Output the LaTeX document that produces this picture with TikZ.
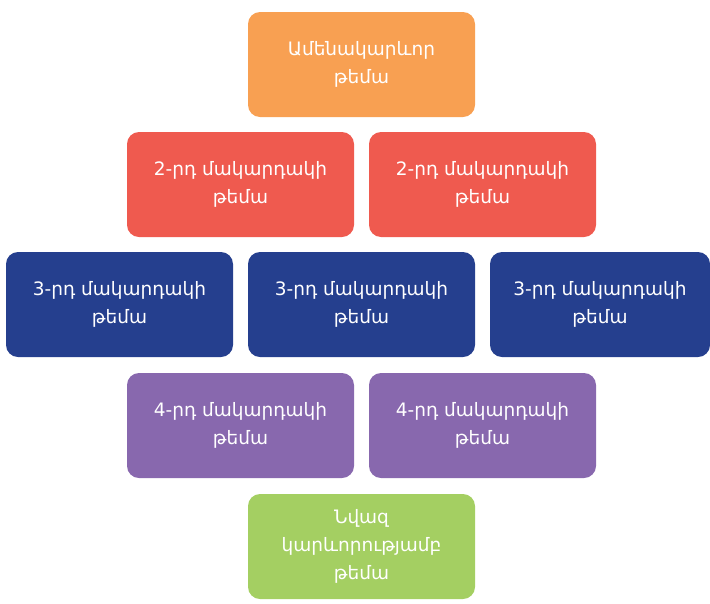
\documentclass[tikz,border=0pt]{standalone}
\usepackage{fontspec}
\setmainfont{DejaVu Sans}
\definecolor{corange}{HTML}{F8A052}
\definecolor{cred}{HTML}{EF5A4F}
\definecolor{cblue}{HTML}{253F8E}
\definecolor{cpurple}{HTML}{8868AE}
\definecolor{cgreen}{HTML}{A4CF62}
\begin{document}
\begin{tikzpicture}[x=1pt,y=-1pt,
  topic/.style={rectangle, rounded corners=12pt, text=white, align=center,
    minimum width=227pt, minimum height=105pt, inner sep=0pt,
    font=\fontsize{18.5}{28}\selectfont},
]
\useasboundingbox (0,0) rectangle (710,603);
\node[topic, fill=corange] (t1) at (361.5,64.5) {Ամենակարևոր\\թեմա};
\node[topic, fill=cred] (t2a) at (240.5,184.5) {2-րդ մակարդակի\\թեմա};
\node[topic, fill=cred] (t2b) at (482.5,184.5) {2-րդ մակարդակի\\թեմա};
\node[topic, fill=cblue] (t3a) at (119.5,304.5) {3-րդ մակարդակի\\թեմա};
\node[topic, fill=cblue] (t3b) at (361.5,304.5) {3-րդ մակարդակի\\թեմա};
\node[topic, fill=cblue, minimum width=220pt] (t3c) at (600,304.5) {3-րդ մակարդակի\\թեմա};
\node[topic, fill=cpurple] (t4a) at (240.5,425.5) {4-րդ մակարդակի\\թեմա};
\node[topic, fill=cpurple] (t4b) at (482.5,425.5) {4-րդ մակարդակի\\թեմա};
\node[topic, fill=cgreen] (t5) at (361.5,546.5) {Նվազ\\կարևորությամբ\\թեմա};
\end{tikzpicture}
\end{document}
